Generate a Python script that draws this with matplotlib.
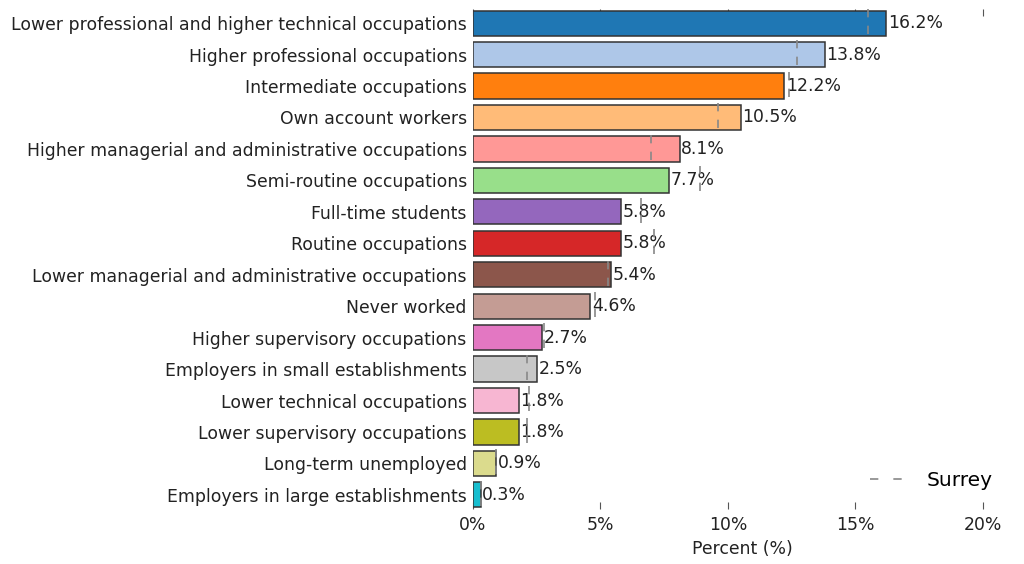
import matplotlib
matplotlib.use("Agg")
import matplotlib.pyplot as plt
from matplotlib.lines import Line2D
import numpy as np

plt.rcParams["font.family"] = ["DejaVu Sans"]

categories = [
    "Lower professional and higher technical occupations",
    "Higher professional occupations",
    "Intermediate occupations",
    "Own account workers",
    "Higher managerial and administrative occupations",
    "Semi-routine occupations",
    "Full-time students",
    "Routine occupations",
    "Lower managerial and administrative occupations",
    "Never worked",
    "Higher supervisory occupations",
    "Employers in small establishments",
    "Lower technical occupations",
    "Lower supervisory occupations",
    "Long-term unemployed",
    "Employers in large establishments",
]
values = [16.2, 13.8, 12.2, 10.5, 8.1, 7.7, 5.8, 5.8, 5.4, 4.6, 2.7, 2.5, 1.8, 1.8, 0.9, 0.3]
surrey = [15.5, 12.7, 12.4, 9.6, 7.0, 8.9, 6.6, 7.1, 5.3, 4.8, 2.8, 2.1, 2.2, 2.1, 0.9, 0.3]
colors = ["#1f77b4", "#aec7e8", "#ff7f0e", "#ffbb78", "#ff9896", "#98df8a",
          "#9467bd", "#d62728", "#8c564b", "#c49c94", "#e377c2", "#c7c7c7",
          "#f7b6d2", "#bcbd22", "#dbdb8d", "#17becf"]
xticks = [0, 5, 10, 15, 20]
xticklabels = ["0%", "5%", "10%", "15%", "20%"]

FS = 12.45

fig = plt.figure(figsize=(10.24, 5.64), dpi=100)
ax = fig.add_axes([473/1024, 1 - 509/564, 538/1024, 500/564])

y = np.arange(len(categories))
bars = ax.barh(y, values, height=0.8, color=colors, edgecolor="#333333", linewidth=1.1, zorder=2)
ax.bar_label(bars, labels=[f"{v:.1f}%" for v in values], padding=1.2, fontsize=FS, color="#222222")

ax.vlines(surrey, y - 0.45, y + 0.45, colors="#888888", linestyles=(0, (5, 5)), linewidth=1.2, zorder=3)

ax.set_ylim(15.45, -0.45)
ax.set_xlim(0, 21.1)
ax.set_yticks(y)
ax.set_yticklabels(categories, fontsize=FS, color="#222222")
ax.set_xticks(xticks)
ax.set_xticklabels(xticklabels, fontsize=FS, color="#222222")
ax.tick_params(axis="y", length=0, pad=4.5)
ax.tick_params(axis="x", direction="in", length=5, width=0.8, color="#555555", top=True, bottom=True, pad=5)
for s in ax.spines.values():
    s.set_visible(False)
ax.set_xlabel("Percent (%)", fontsize=FS, color="#222222", labelpad=4)

handle = Line2D([0], [0], color="#888888", linestyle=(0, (5, 9)), linewidth=1.2)
ax.legend([handle], ["Surrey"], loc="center right", bbox_to_anchor=(0.98, 0.056),
          borderaxespad=0, frameon=False, fontsize=14.5)

fig.savefig("out.png", dpi=100)
